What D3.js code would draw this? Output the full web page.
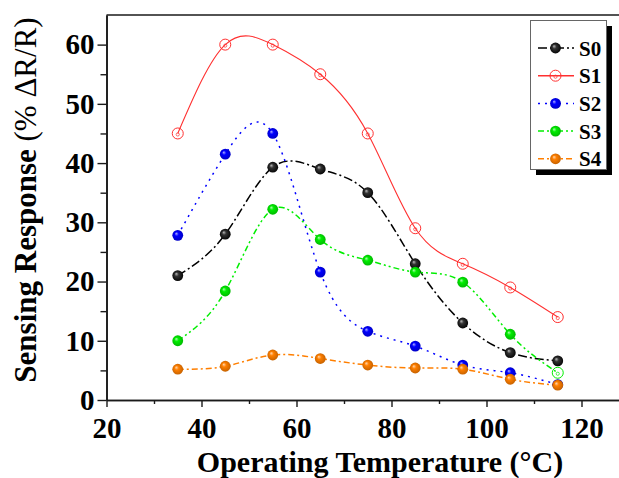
<!DOCTYPE html>
<html>
<head>
<meta charset="utf-8">
<script src="https://cdn.jsdelivr.net/npm/d3@7"></script>
<style>
  body { margin: 0; background: #fff; }
  svg { display: block; }
</style>
</head>
<body>
<div id="chartContainer"></div>
<script>
var width = 619, height = 478;
var margin = { top: 15, left: 106.5, bottom: 78 };

// data
var temps = [35, 45, 55, 65, 75, 85, 95, 105, 115];
var s0 = [21, 28, 39.3, 39, 35, 23, 13, 8, 6.6];
var s1 = [45, 60, 60, 55, 45, 29, 23, 19, 14];
var s2 = [27.8, 41.5, 45, 21.6, 11.6, 9.1, 5.9, 4.6, 2.6];
var s3 = [10, 18.4, 32.2, 27.1, 23.6, 21.6, 19.9, 11.1, 4.6];
var s4 = [5.2, 5.7, 7.6, 7.0, 5.9, 5.4, 5.2, 3.5, 2.5];
var seriesNames = ["S0", "S1", "S2", "S3", "S4"];
var xTicks = [20, 40, 60, 80, 100, 120];
var xMinor = [30, 50, 70, 90, 110, 130];
var yTicks = [0, 10, 20, 30, 40, 50, 60];
var yMinor = [5, 15, 25, 35, 45, 55];
// the S3 point at 115 is drawn as an open circle in the original
var s3Hollow = [115];

var colors = ["#000000", "#ff3030", "#0000ff", "#00ee00", "#ff7f00"];
var dashes = ["9,3,2,3", null, "2,5", "6,3,2,3,2,3", "6,3,2,3"];
var fontFam = "'Liberation Serif', 'Times New Roman', serif";

var svg = d3.select("#chartContainer").append("svg")
    .attr("width", width).attr("height", height);

var defs = svg.append("defs");
colors.forEach(function (c, i) {
    var g = defs.append("radialGradient").attr("id", "ball" + i)
        .attr("cx", "50%").attr("cy", "50%").attr("r", "55%")
        .attr("fx", "35%").attr("fy", "32%");
    var base = d3.color(c);
    g.append("stop").attr("offset", "0%").attr("stop-color", i == 0 ? "#bbbbbb" : d3.interpolateRgb(c, "#fff")(0.7));
    g.append("stop").attr("offset", "35%").attr("stop-color", i == 0 ? "#333" : c);
    g.append("stop").attr("offset", "100%").attr("stop-color", base.darker(i == 0 ? 0 : 0.8));
});

var x = d3.scaleLinear().domain([20, 130]).range([margin.left, margin.left + 110 * 4.75]);
var y = d3.scaleLinear().domain([0, 65]).range([height - margin.bottom, margin.top]);

var axisColor = "#1a1a1a";

// top border
svg.append("line")
    .attr("x1", margin.left).attr("x2", width + 5)
    .attr("y1", y(65)).attr("y2", y(65))
    .attr("stroke", axisColor).attr("stroke-width", 1.6);

function styleAxis(g) {
    g.select(".domain").attr("stroke", axisColor).attr("stroke-width", 1.6);
    g.selectAll(".tick line").attr("stroke", axisColor).attr("stroke-width", 1.4);
}

// minor ticks
svg.append("g").attr("transform", "translate(0," + y(0) + ")")
    .call(d3.axisBottom(x).tickValues(xMinor).tickSize(4).tickFormat("").tickSizeOuter(0))
    .call(styleAxis);
svg.append("g").attr("transform", "translate(" + margin.left + ",0)")
    .call(d3.axisLeft(y).tickValues(yMinor).tickSize(6).tickFormat("").tickSizeOuter(0))
    .call(styleAxis);

var xAxis = svg.append("g").attr("transform", "translate(0," + y(0) + ")")
    .call(d3.axisBottom(x).tickValues(xTicks).tickSize(7).tickPadding(10).tickSizeOuter(0))
    .call(styleAxis);
xAxis.selectAll(".tick text")
    .attr("font-family", fontFam).attr("font-weight", "bold").attr("font-size", 29)
    .attr("fill", "#000");

var yAxis = svg.append("g").attr("transform", "translate(" + margin.left + ",0)")
    .call(d3.axisLeft(y).tickValues(yTicks).tickSize(9).tickPadding(3).tickSizeOuter(0))
    .call(styleAxis);
yAxis.selectAll(".tick text")
    .attr("font-family", fontFam).attr("font-weight", "bold").attr("font-size", 29)
    .attr("fill", "#000");

// axis titles
svg.append("text")
    .attr("transform", "translate(380,472)")
    .attr("text-anchor", "middle")
    .attr("font-family", fontFam).attr("font-weight", "bold").attr("font-size", 30)
    .text("Operating Temperature (°C)");

var yt = svg.append("text")
    .attr("transform", "translate(36,200) rotate(-90)")
    .attr("text-anchor", "middle")
    .attr("font-family", fontFam).attr("font-size", 31);
yt.append("tspan").attr("font-weight", "bold").text("Sensing Response ");
yt.append("tspan").text("(% \u0394R/R)");

// series
var allSeries = [s0, s1, s2, s3, s4];
var line = d3.line()
    .x(function (d) { return x(d.t); })
    .y(function (d) { return y(d.v); })
    .curve(d3.curveNatural);

allSeries.forEach(function (vals, i) {
    var data = temps.map(function (t, k) { return { t: t, v: vals[k] }; });
    svg.append("path")
        .datum(data)
        .attr("fill", "none")
        .attr("stroke", colors[i])
        .attr("stroke-width", i == 1 ? 1.1 : 1.5)
        .attr("stroke-dasharray", dashes[i])
        .attr("d", line);
});

function drawMarker(g, cx, cy, i, hollow) {
    if (i == 1 || hollow) {
        g.append("circle").attr("cx", cx).attr("cy", cy).attr("r", 5.5)
            .attr("fill", "none").attr("stroke", colors[i]).attr("stroke-width", 1);
        g.append("circle").attr("cx", cx).attr("cy", cy + 1).attr("r", 1.6)
            .attr("fill", "none").attr("stroke", colors[i]).attr("stroke-width", 0.7);
    } else {
        g.append("circle").attr("cx", cx).attr("cy", cy).attr("r", 5.4)
            .attr("fill", "url(#ball" + i + ")");
    }
}

allSeries.forEach(function (vals, i) {
    var g = svg.append("g");
    temps.forEach(function (t, k) {
        drawMarker(g, x(t), y(vals[k]), i, i == 3 && s3Hollow.indexOf(t) >= 0);
    });
});

// legend
var lg = svg.append("g");
lg.append("rect").attr("x", 536).attr("y", 26).attr("width", 76).attr("height", 149).attr("fill", "#000");
lg.append("rect").attr("x", 530.5).attr("y", 20.5).attr("width", 76).attr("height", 149)
    .attr("fill", "#fff").attr("stroke", "#666").attr("stroke-width", 1);

seriesNames.forEach(function (name, i) {
    var ly = 48 + i * 27.7;
    lg.append("line").attr("x1", 538).attr("x2", 574).attr("y1", ly).attr("y2", ly)
        .attr("stroke", colors[i]).attr("stroke-width", 1.5)
        .attr("stroke-dasharray", dashes[i]);
    drawMarker(lg, 555.5, ly, i, false);
    lg.append("text")
        .attr("x", 579).attr("y", ly + 7.5)
        .attr("font-family", fontFam).attr("font-weight", "bold").attr("font-size", 21)
        .text(name);
});
</script>
</body>
</html>
